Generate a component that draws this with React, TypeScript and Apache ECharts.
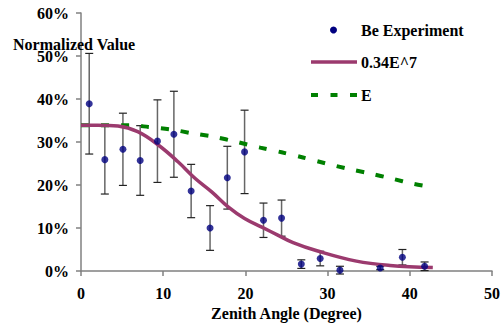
import React, { useEffect, useRef } from "react";
import * as echarts from "echarts";

const xTicks = [0, 10, 20, 30, 40, 50];
const yTicks = [0, 0.1, 0.2, 0.3, 0.4, 0.5, 0.6];

const angles = [1.0, 2.9, 5.1, 7.2, 9.3, 11.3, 13.4, 15.7, 17.8, 19.9, 22.2, 24.4, 26.8, 29.1, 31.5, 36.4, 39.1, 41.8];
const values = [0.389, 0.259, 0.283, 0.257, 0.302, 0.318, 0.186, 0.1, 0.217, 0.277, 0.118, 0.123, 0.016, 0.029, 0.002, 0.007, 0.032, 0.011];
const errors = [0.117, 0.08, 0.084, 0.081, 0.096, 0.1, 0.062, 0.052, 0.073, 0.097, 0.04, 0.042, 0.01, 0.017, 0.009, 0.004, 0.018, 0.01];

const fitX = [0, 2, 4.5, 6.9, 9.4, 11.8, 13.9, 15.9, 17.9, 19.9, 22.0, 24.0, 25.8, 28.7, 33.5, 37.6, 42.8];
const fitY = [0.339, 0.339, 0.337, 0.324, 0.293, 0.254, 0.215, 0.184, 0.149, 0.122, 0.102, 0.083, 0.066, 0.047, 0.023, 0.013, 0.008];

const eX = [0, 6, 8.2, 11.0, 13.6, 16.2, 19.0, 21.8, 24.4, 27.0, 29.8, 32.4, 35.1, 37.8, 40.4, 42.8];
const eY = [0.339, 0.339, 0.335, 0.329, 0.32, 0.312, 0.3, 0.287, 0.276, 0.264, 0.25, 0.238, 0.227, 0.215, 0.203, 0.195];

const seriesNames = ["Be Experiment", "0.34E^7", "E"];
const FONT_FAMILY = "'Liberation Serif', 'Times New Roman', serif";
const FONT = `bold 16px 'Liberation Serif', 'Times New Roman', serif`;
const BLUE = "#000080";
const PLUM = "#9B3A6E";
const GREEN = "#008000";

export default function App() {
  const ref = useRef<HTMLDivElement>(null);
  useEffect(() => {
    if (!ref.current) return;
    const chart = echarts.init(ref.current, null, { renderer: "svg" });
    const textStyle = { fontFamily: FONT_FAMILY, fontWeight: "bold" as const, fontSize: 16, color: "#000" };
    const legendTextX = 361;
    const legendY = [30, 62, 95];
    chart.setOption({
      animation: false,
      backgroundColor: "#fff",
      textStyle: { fontFamily: FONT_FAMILY },
      grid: { left: 81, right: 10, top: 13, bottom: 54, containLabel: false, outerBoundsMode: "none" },
      xAxis: {
        type: "value",
        min: xTicks[0],
        max: xTicks[xTicks.length - 1],
        interval: 10,
        name: "Zenith Angle (Degree)",
        nameLocation: "middle",
        nameGap: 32,
        nameTextStyle: { ...textStyle },
        axisLine: { show: true, lineStyle: { color: "#808080", width: 1.5 } },
        axisTick: { show: true, length: 5, inside: false, lineStyle: { color: "#808080", width: 1.5 } },
        axisLabel: { ...textStyle, margin: 14 },
        splitLine: { show: false },
      },
      yAxis: {
        type: "value",
        min: yTicks[0],
        max: yTicks[yTicks.length - 1],
        interval: 0.1,
        axisLine: { show: true, lineStyle: { color: "#808080", width: 1.5 } },
        axisTick: { show: true, length: 5, inside: false, lineStyle: { color: "#808080", width: 1.5 } },
        axisLabel: {
          ...textStyle,
          margin: 12,
          formatter: (v: number) => Math.round(v * 100) + "%",
        },
        splitLine: { show: false },
      },
      graphic: [
        {
          type: "text",
          left: 13,
          top: 36,
          z: 100,
          style: { text: "Normalized Value", font: FONT, fill: "#000" },
        },
        {
          type: "circle",
          z: 100,
          shape: { cx: 333.5, cy: legendY[0], r: 3.5 },
          style: { fill: BLUE },
        },
        {
          type: "line",
          z: 100,
          shape: { x1: 311, y1: legendY[1], x2: 357, y2: legendY[1] },
          style: { stroke: PLUM, lineWidth: 3.5 },
        },
        {
          type: "line",
          z: 100,
          shape: { x1: 311, y1: legendY[2], x2: 358, y2: legendY[2] },
          style: { stroke: GREEN, lineWidth: 4, lineDash: [7, 12.5] },
        },
        ...seriesNames.map((n, i) => ({
          type: "text",
          z: 100,
          x: legendTextX,
          y: legendY[i],
          style: { text: n, font: FONT, fill: "#000", verticalAlign: "middle" },
        })),
      ],
      series: [
        {
          type: "custom",
          name: "errors",
          clip: false,
          z: 1,
          data: angles.map((a, i) => [a, values[i], errors[i]]),
          renderItem: (params: any, api: any) => {
            const x = api.value(0);
            const y = api.value(1);
            const e = api.value(2);
            const top = api.coord([x, y + e]);
            const bot = api.coord([x, y - e]);
            const hw = 4;
            const st = { stroke: "#222", lineWidth: 1.2 };
            return {
              type: "group",
              children: [
                { type: "line", shape: { x1: top[0], y1: top[1], x2: bot[0], y2: bot[1] }, style: { stroke: "#666", lineWidth: 1.5 } },
                { type: "line", shape: { x1: top[0] - hw, y1: top[1], x2: top[0] + hw, y2: top[1] }, style: st },
                { type: "line", shape: { x1: bot[0] - hw, y1: bot[1], x2: bot[0] + hw, y2: bot[1] }, style: st },
              ],
            };
          },
        },
        {
          type: "line",
          name: seriesNames[2],
          z: 2,
          data: eX.map((x, i) => [x, eY[i]]),
          showSymbol: false,
          symbol: "none",
          smooth: 0.3,
          lineStyle: { color: GREEN, width: 4, type: [8, 12] },
          itemStyle: { color: GREEN },
        },
        {
          type: "line",
          name: seriesNames[1],
          z: 3,
          data: fitX.map((x, i) => [x, fitY[i]]),
          showSymbol: false,
          symbol: "none",
          smooth: 0.4,
          lineStyle: { color: PLUM, width: 3.5 },
          itemStyle: { color: PLUM },
        },
        {
          type: "scatter",
          name: seriesNames[0],
          z: 4,
          symbol: "circle",
          symbolSize: 7,
          data: angles.map((a, i) => [a, values[i]]),
          itemStyle: { color: BLUE },
        },
      ],
    });
    return () => chart.dispose();
  }, []);
  return <div ref={ref} style={{ width: 502, height: 325, position: "absolute", left: 0, top: 0 }} />;
}
